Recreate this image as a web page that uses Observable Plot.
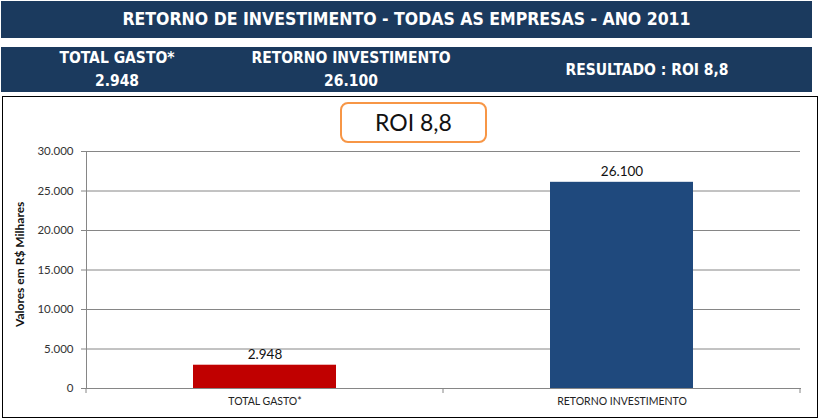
<!DOCTYPE html>
<html>
<head>
<meta charset="utf-8">
<script src="https://cdn.jsdelivr.net/npm/d3@7"></script>
<script src="https://cdn.jsdelivr.net/npm/@observablehq/plot@0.6"></script>
<style>
  html, body { margin: 0; padding: 0; background: #fff; width: 821px; height: 419px; overflow: hidden; }
  .band { position: absolute; left: 1px; width: 811px; background: #1b3a5e; color: #fff;
          font-family: "Liberation Sans Narrow", "DejaVu Sans Condensed", "Liberation Sans", sans-serif; font-weight: bold; }
  #title { top: 1px; height: 37px; font-size: 17.5px; line-height: 37px; text-align: center; }
  #summary { top: 47px; height: 45px; font-size: 15.5px; }
  .cell { position: absolute; text-align: center; line-height: 23px; }
  #box { position: absolute; left: 2px; top: 96px; width: 814px; height: 320px; border: 1px solid #000; }
  #chart { position: absolute; left: 3px; top: 97px; }
  #roi { position: absolute; left: 340px; top: 102px; width: 143px; height: 37px; border: 2px solid #f79646;
         border-radius: 8px; background: #fff; font-family: Lato, "Open Sans", sans-serif; font-size: 23px;
         line-height: 37px; text-align: center; color: #111; }
</style>
</head>
<body>
<div id="title" class="band"></div>
<div id="summary" class="band"></div>
<div id="box"></div>
<div id="chart"></div>
<div id="roi"></div>
<script>
const titleText = "RETORNO DE INVESTIMENTO - TODAS AS EMPRESAS - ANO 2011";
const categories = ["TOTAL GASTO*", "RETORNO INVESTIMENTO"];
const values = [2948, 26100];
const barColors = ["#c00000", "#1f497d"];
const roiLabel = "ROI 8,8";
const resultLabel = "RESULTADO : ROI 8,8";
const yLabel = "Valores em R$ Milhares";
const yTicks = [0, 5000, 10000, 15000, 20000, 25000, 30000];

const ptBR = d3.formatLocale({decimal: ",", thousands: ".", grouping: [3], currency: ["R$", ""]});
const fmt = ptBR.format(",d");

document.getElementById("title").textContent = titleText;
const summary = document.getElementById("summary");
const cells = [
  {cx: 116, lines: [categories[0], fmt(values[0])]},
  {cx: 350, lines: [categories[1], fmt(values[1])]},
  {cx: 646, lines: [resultLabel]}
];
for (const c of cells) {
  const d = document.createElement("div");
  d.className = "cell";
  d.style.left = (c.cx - 150) + "px";
  d.style.width = "300px";
  d.style.top = c.lines.length === 2 ? "0px" : "12px";
  d.innerHTML = c.lines.join("<br>");
  summary.appendChild(d);
}
document.getElementById("roi").textContent = roiLabel;

const data = categories.map((c, i) => ({category: c, value: values[i], color: barColors[i]}));

function boundaryTicks(index, scales, channels, dimensions) {
  const {width, height, marginLeft, marginRight, marginBottom} = dimensions;
  const n = categories.length;
  const w = (width - marginLeft - marginRight) / n;
  const y0 = height - marginBottom;
  const g = d3.create("svg:g").attr("stroke", "#868686");
  for (let i = 0; i <= n; i++) {
    const x = marginLeft + i * w;
    g.append("line").attr("x1", x).attr("x2", x).attr("y1", y0).attr("y2", y0 + 5);
  }
  return g.node();
}

const chart = Plot.plot({
  width: 814,
  height: 319,
  marginLeft: 83,
  marginRight: 17,
  marginTop: 54,
  marginBottom: 28,
  style: {fontFamily: "Lato, 'Open Sans', sans-serif", background: "transparent", overflow: "visible"},
  x: {domain: categories, paddingInner: 0.6, paddingOuter: 0.3, label: null},
  y: {domain: [0, 30000], label: null},
  marks: [
    Plot.gridY(yTicks, {stroke: "#868686", strokeOpacity: 1}),
    Plot.barY(data, {x: "category", y: "value", fill: "color"}),
    Plot.frame({anchor: "left", stroke: "#868686"}),
    Plot.frame({anchor: "bottom", stroke: "#868686"}),
    Plot.axisY(yTicks, {tickSize: 5, tickPadding: 8, stroke: "#868686", fill: "#333", fontSize: 11.5,
      tickFormat: fmt, label: null}),
    Plot.axisX({tickSize: 0, tickPadding: 9, fill: "#222", fontSize: 10.5, label: null,
      style: {letterSpacing: "0.6px"}}),
    boundaryTicks,
    Plot.text(data, {x: "category", y: "value", text: d => fmt(d.value), dy: -11, fontSize: 13.5, fill: "#111"}),
    Plot.text([yLabel], {frameAnchor: "left", dx: -66, dy: 57, rotate: -90, fontWeight: "bold", fontSize: 12, fill: "#111"})
  ]
});
document.getElementById("chart").appendChild(chart);
</script>
</body>
</html>
